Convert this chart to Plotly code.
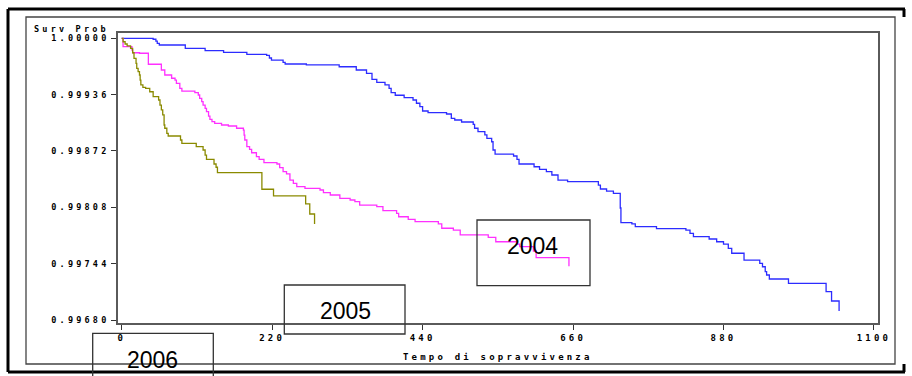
import plotly.graph_objects as go

# ---------------- data ----------------
t_blue = [0, 46, 50, 52, 55, 93, 122, 149, 183, 212, 216, 219, 236, 239, 270, 318, 343, 358, 366, 373,
          385, 391, 394, 400, 413, 426, 431, 436, 440, 448, 475, 482, 487, 497, 514, 516, 521, 531, 534, 541,
          543, 546, 573, 578, 581, 603, 611, 621, 629, 638, 652, 697, 700, 709, 719, 729, 730, 746, 751, 782,
          825, 831, 836, 859, 870, 880, 887, 892, 910, 933, 937, 941, 943, 947, 975, 1030, 1038, 1049]
s_blue = [1.0, .999989, .999969, .999943, .999924, .999886, .999859, .999841, .999818, .999807,
          .999776, .999753, .999727, .999708, .999697, .999677, .999640, .999602, .999534, .999500,
          .999470, .999432, .999382, .999353, .999325, .999299, .999262, .999223, .999174, .999155,
          .999140, .999091, .999072, .999049, .999023, .998978, .998939, .998902, .998864, .998825,
          .998731, .998685, .998663, .998625, .998572, .998541, .998512, .998485, .998447, .998390,
          .998373, .998333, .998288, .998265, .998239, .998072, .997905, .997891, .997860, .997837,
          .997822, .997785, .997746, .997720, .997689, .997663, .997614, .997558, .997481, .997444,
          .997405, .997349, .997311, .997266, .997217, .997122, .997016, .996903]

t_magenta = [0, 2, 15, 16, 26, 39, 58, 63, 73, 78, 80, 85, 88, 107, 112, 114, 117, 119, 122, 124,
             127, 129, 132, 136, 146, 156, 168, 178, 179, 180, 183, 187, 190, 197, 201, 208, 227, 231, 236, 241,
             246, 251, 256, 268, 290, 295, 305, 319, 334, 341, 348, 373, 382, 402, 405, 419, 429, 463, 468, 485,
             495, 536, 547, 578, 582, 602, 606, 654]
s_magenta = [1.0, .999905, .999867, .999836, .999830, .999705, .999640, .999583, .999546, .999526,
             .999489, .999432, .999401, .999382, .999356, .999318, .999280, .999242, .999205, .999166,
             .999117, .999080, .999053, .999034, .999015, .999004, .998978, .998958, .998901, .998845,
             .998769, .998739, .998700, .998655, .998625, .998587, .998572, .998532, .998485, .998459,
             .998390, .998353, .998314, .998296, .998277, .998246, .998220, .998182, .998163, .998144,
             .998106, .998087, .998042, .998012, .997973, .997944, .997917, .997891, .997842, .997822,
             .997766, .997739, .997689, .997663, .997633, .997584, .997508, .997410]

t_olive = [0, 2, 5, 8, 13, 16, 18, 21, 22, 24, 26, 27, 28, 31, 35, 41, 46, 54, 56, 58,
           60, 62, 63, 66, 68, 86, 88, 109, 119, 122, 124, 135, 138, 140, 205, 222, 269, 275, 282]
s_olive = [1.0, .999961, .999935, .999913, .999886, .999836, .999773, .999716, .999659, .999621,
           .999583, .999526, .999470, .999443, .999432, .999393, .999337, .999299, .999242, .999186,
           .999129, .999015, .998978, .998921, .998890, .998845, .998807, .998769, .998731, .998674,
           .998625, .998572, .998535, .998473, .998285, .998209, .998118, .998004, .997891]

y_ticks = [0.99680, 0.99744, 0.99808, 0.99872, 0.99936, 1.00000]
y_tick_labels = ["0.99680", "0.99744", "0.99808", "0.99872", "0.99936", "1.00000"]
x_ticks = [0, 220, 440, 660, 880, 1100]
x_tick_labels = ["0", "220", "440", "660", "880", "1100"]
y_label = "Surv Prob"
x_label = "Tempo di sopravvivenza"
box_labels = ["2004", "2005", "2006"]

# ---------------- figure ----------------
W, H = 912, 376
L, R, T, B = 118, 878, 33, 323   # plot-area pixel edges


def px(x):
    return (x - L) / (R - L)


def py(y):
    return (B - y) / (B - T)


def spaced(s, sp=3.2):
    return '<span style="letter-spacing:%.1fpx">%s</span>' % (sp, s)


MONO = "DejaVu Sans Mono"

fig = go.Figure()
for t, s, c in [(t_blue, s_blue, "#2c2cff"), (t_magenta, s_magenta, "#ff30ff"), (t_olive, s_olive, "#8a8a00")]:
    fig.add_trace(go.Scatter(x=t, y=s, mode="lines", line=dict(color=c, width=1.3, shape="hv"),
                             showlegend=False, hoverinfo="skip"))

fig.update_xaxes(range=[-5.4, 1105.9], tickmode="array", tickvals=x_ticks,
                 ticktext=[spaced(v) for v in x_tick_labels],
                 showgrid=False, zeroline=False, showline=True, mirror=True,
                 linecolor="#5a5a5a", linewidth=1.6, ticks="outside", ticklen=5, tickcolor="#333",
                 tickfont=dict(family=MONO, size=9, color="black", weight="bold"))
fig.update_yaxes(range=[0.9967659, 1.0000602], tickmode="array", tickvals=y_ticks,
                 ticktext=[spaced(v) for v in y_tick_labels],
                 showgrid=False, zeroline=False, showline=True, mirror=True,
                 linecolor="#5a5a5a", linewidth=1.6, ticks="outside", ticklen=5, tickcolor="#333",
                 tickfont=dict(family=MONO, size=8.5, color="black", weight="bold"))

shapes = []
# inner frame
shapes.append(dict(type="rect", xref="paper", yref="paper", x0=px(26), x1=px(895), y0=py(17), y1=py(364),
                   line=dict(color="#444", width=1.3)))
# outer thick frame pieces
for (x0, y0, x1, y1) in [(8, 9, 905, 9), (8, 9, 8, 372), (8, 372, 905, 372), (904, 9, 904, 17), (904, 364, 904, 372)]:
    shapes.append(dict(type="line", xref="paper", yref="paper", x0=px(x0), x1=px(x1), y0=py(y0), y1=py(y1),
                       line=dict(color="black", width=3)))
# label boxes
box_geo = [(477, 220, 590, 285.7), (284.3, 285, 405, 334), (92.7, 333.3, 213.3, 380)]
for (x0, y0, x1, y1) in box_geo:
    shapes.append(dict(type="rect", xref="paper", yref="paper", x0=px(x0), x1=px(x1), y0=py(y0), y1=py(y1),
                       line=dict(color="#333", width=1.3)))
fig.update_layout(shapes=shapes)

annotations = []
text_pos = [(532.7, 245.7), (345, 310.7), (152.7, 360)]
for lab, (x, y) in zip(box_labels, text_pos):
    annotations.append(dict(text=lab, xref="paper", yref="paper", x=px(x), y=py(y), showarrow=False,
                            xanchor="center", yanchor="middle",
                            font=dict(family="Liberation Sans, Arial", size=23, color="black")))
annotations.append(dict(text=spaced(y_label), xref="paper", yref="paper", x=px(111), y=py(28.5),
                        showarrow=False, xanchor="right", yanchor="middle",
                        font=dict(family=MONO, size=8.5, color="black", weight="bold")))
annotations.append(dict(text=spaced(x_label), xref="paper", yref="paper", x=0.5, y=py(357),
                        showarrow=False, xanchor="center", yanchor="middle",
                        font=dict(family=MONO, size=9, color="black", weight="bold")))
fig.update_layout(annotations=annotations)

fig.update_layout(width=W, height=H, margin=dict(l=L, r=W - R, t=T, b=H - B),
                  paper_bgcolor="white", plot_bgcolor="white", showlegend=False)

fig.write_html("out.html")
